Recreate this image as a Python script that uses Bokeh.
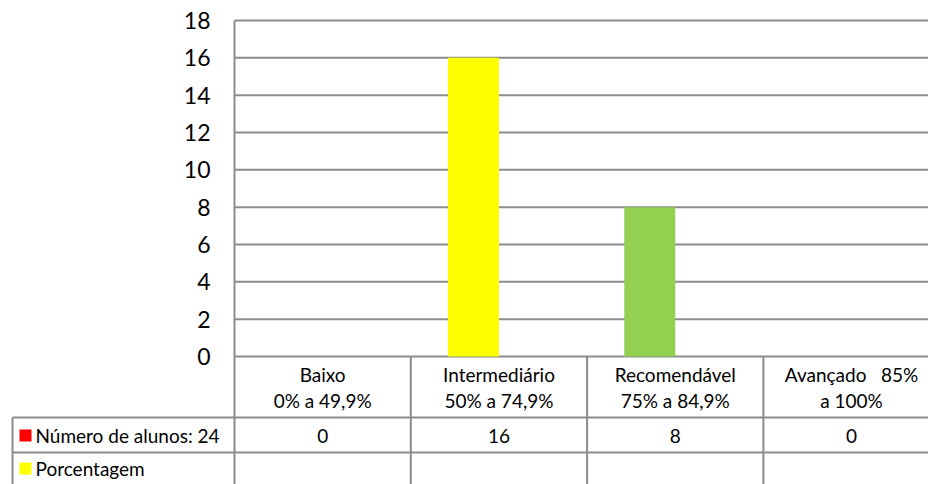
from bokeh.plotting import figure
from bokeh.models import Range1d, ColumnDataSource
from bokeh.core.properties import value
from bokeh.embed import file_html
from bokeh.resources import INLINE

# ---------------- data ----------------
categories = ["Baixo", "Intermediário", "Recomendável", "Avançado"]
cat_line1 = ["Baixo", "Intermediário", "Recomendável", "Avançado\u00a0\u00a0\u00a085%"]
cat_line2 = ["0% a 49,9%", "50% a 74,9%", "75% a 84,9%", "a 100%"]
alunos = [0, 16, 8, 0]
bar_colors = ["#ff0000", "#ffff00", "#92d050", "#4f81bd"]
series_names = ["Número de alunos: 24", "Porcentagem"]
series_colors = ["#ff0000", "#ffff00"]
y_ticks = [0, 2, 4, 6, 8, 10, 12, 14, 16, 18]

# ---------------- layout ----------------
W, H = 928, 484
X0 = 234          # px where category axis starts
CAT_W = 176.3     # px per category
Y0 = 356          # px of value 0
PX_PER_UNIT = (356 - 20) / 18.0


def ux(px):
    return (px - X0) / CAT_W


def uy(py):
    return (Y0 - py) / PX_PER_UNIT


FONT = value("Lato")
GRID = "#8c8c8c"
TXT = "#000000"
TFS = "19px"

p = figure(width=W, height=H, output_backend="svg", toolbar_location=None,
           x_range=Range1d(ux(0), ux(W)), y_range=Range1d(uy(H), uy(0)),
           min_border=0, min_border_left=0, min_border_right=0,
           min_border_top=0, min_border_bottom=0)
p.axis.visible = False
p.grid.visible = False
p.outline_line_color = None
p.background_fill_color = "white"
p.border_fill_color = "white"

xmax = ux(W) + 0.2
ymin = uy(H) - 0.2

# gridlines (value axis)
p.segment(x0=[0] * len(y_ticks), x1=[xmax] * len(y_ticks), y0=y_ticks, y1=y_ticks,
          line_color=GRID, line_width=2)
# value axis line
p.segment(x0=[0], x1=[0], y0=[max(y_ticks)], y1=[ymin], line_color=GRID, line_width=2)
# y tick labels
p.text(x=[ux(210)] * len(y_ticks), y=y_ticks, text=[str(t) for t in y_ticks],
       text_font=FONT, text_font_size="23px", text_align="right",
       text_baseline="middle", text_color=TXT)

# bars (series 1, clustered with empty series 2 -> left half of category)
n = len(categories)
bar_w = 51 / CAT_W
src = ColumnDataSource(dict(x=[i + 0.5 - bar_w / 2 for i in range(n)], top=alunos,
                            color=bar_colors))
p.vbar(x="x", top="top", bottom=0, width=bar_w, fill_color="color",
       line_color=None, source=src)

# data table
row_a = uy(417)
row_b = uy(452)
left_tab = ux(12)
p.segment(x0=[left_tab, left_tab], x1=[xmax, xmax], y0=[row_a, row_b], y1=[row_a, row_b],
          line_color=GRID, line_width=2)
p.segment(x0=[1, 2, 3], x1=[1, 2, 3], y0=[0] * 3, y1=[ymin] * 3,
          line_color=GRID, line_width=2)
p.segment(x0=[left_tab], x1=[left_tab], y0=[row_a], y1=[ymin],
          line_color=GRID, line_width=2)

centers = [i + 0.5 for i in range(n)]
p.text(x=centers, y=[uy(374)] * n, text=cat_line1, text_font=FONT,
       text_font_size=TFS, text_align="center", text_baseline="middle",
       text_color=TXT)
p.text(x=centers, y=[uy(400)] * n, text=cat_line2, text_font=FONT,
       text_font_size=TFS, text_align="center", text_baseline="middle",
       text_color=TXT)
p.text(x=centers, y=[uy(435)] * n, text=[str(v) for v in alunos], text_font=FONT,
       text_font_size=TFS, text_align="center", text_baseline="middle",
       text_color=TXT)

# legend keys in table
row_y = [uy(435), uy(468)]
p.rect(x=[ux(25)] * 2, y=row_y, width=12, height=12, width_units="screen",
       height_units="screen", fill_color=series_colors, line_color=None)
p.text(x=[ux(35)] * 2, y=row_y, text=series_names, text_font=FONT,
       text_font_size=TFS, text_align="left", text_baseline="middle",
       text_color=TXT)

open("out.html", "w").write(file_html(p, INLINE))
